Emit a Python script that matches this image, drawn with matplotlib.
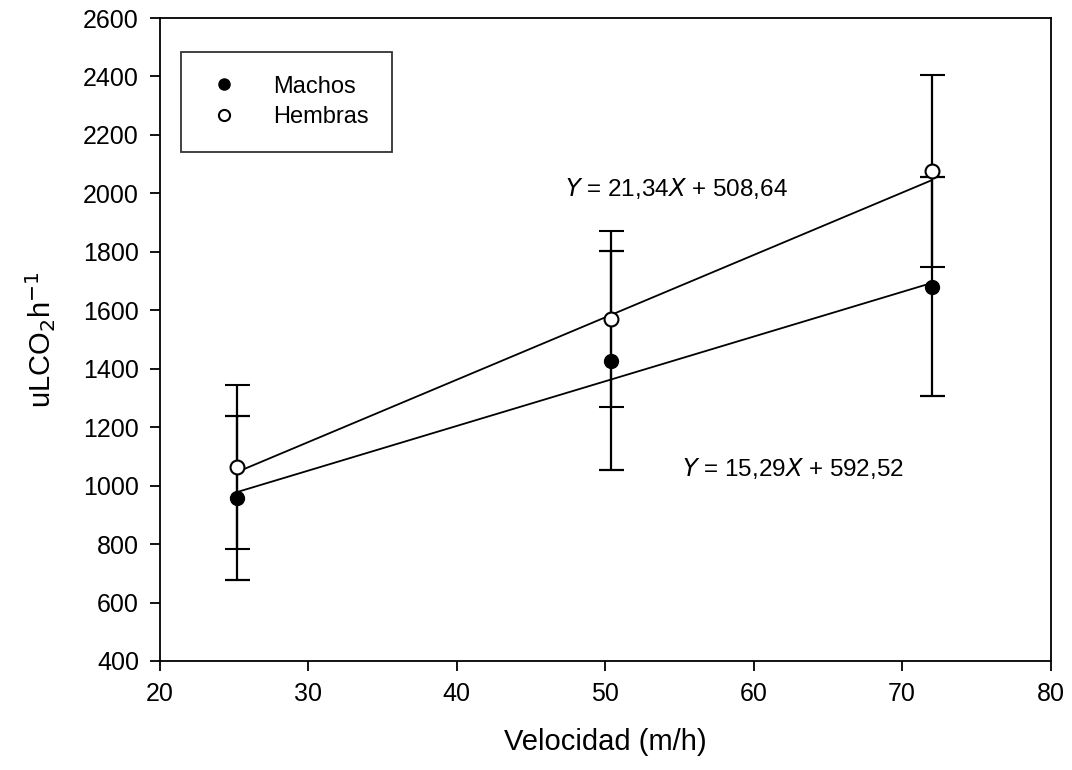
import matplotlib
matplotlib.use("Agg")
import numpy as np
import matplotlib.pyplot as plt

plt.rcParams['font.family'] = ['Liberation Sans', 'DejaVu Sans']

# datos
velocidad = [25.2, 50.4, 72.0]
machos = [958, 1427, 1680]
machos_err = [280, 375, 375]
hembras = [1064, 1570, 2077]
hembras_err = [280, 300, 328]

# regresiones
pend_h, int_h = 21.34, 508.64
pend_m, int_m = 15.29, 592.52

fig = plt.figure(figsize=(10.72, 7.70), dpi=100)
ax = fig.add_axes([0.149, 0.1416, 0.831, 0.835])

xs = np.array([min(velocidad), max(velocidad)])
ax.plot(xs, pend_h * xs + int_h, 'k-', lw=1.3, zorder=2)
ax.plot(xs, pend_m * xs + int_m, 'k-', lw=1.3, zorder=2)

ax.errorbar(velocidad, machos, yerr=machos_err, fmt='o', color='k', mfc='k', mec='k',
            ms=10, capsize=9, elinewidth=1.6, capthick=1.6, label='Machos', zorder=3)
ax.errorbar(velocidad, hembras, yerr=hembras_err, fmt='o', color='k', mfc='white', mec='k',
            ms=10, mew=1.5, capsize=9, elinewidth=1.6, capthick=1.6, label='Hembras', zorder=4)

ax.text(47.3, 2018, r'$\mathit{Y}$ = 21,34$\mathit{X}$ + 508,64', fontsize=17.5, va='center')
ax.text(55.2, 1057, r'$\mathit{Y}$ = 15,29$\mathit{X}$ + 592,52', fontsize=17.5, va='center')

ax.set_xlim(20, 80)
ax.set_ylim(400, 2600)
ax.set_xticks(range(20, 81, 10))
ax.set_yticks(range(400, 2601, 200))
ax.tick_params(labelsize=18, direction='out', length=7, width=1.3, pad=8)
for s in ax.spines.values():
    s.set_linewidth(1.3)

ax.set_xlabel('Velocidad (m/h)', fontsize=21, labelpad=16)
ax.set_ylabel(r'uLCO$_2$h$^{-1}$', fontsize=21, labelpad=18)

handles, labels = ax.get_legend_handles_labels()
handles = [h[0] for h in handles]
leg = ax.legend(handles, labels, loc='upper left', bbox_to_anchor=(0.024, 0.947),
                fontsize=17, frameon=True, fancybox=False, edgecolor='k',
                borderpad=1.0, handlelength=1.6, handletextpad=1.3, labelspacing=0.35,
                borderaxespad=0)
leg.get_frame().set_linewidth(1.3)
for h in leg.legend_handles:
    h.set_markersize(8)

fig.savefig('out.png', dpi=100)
